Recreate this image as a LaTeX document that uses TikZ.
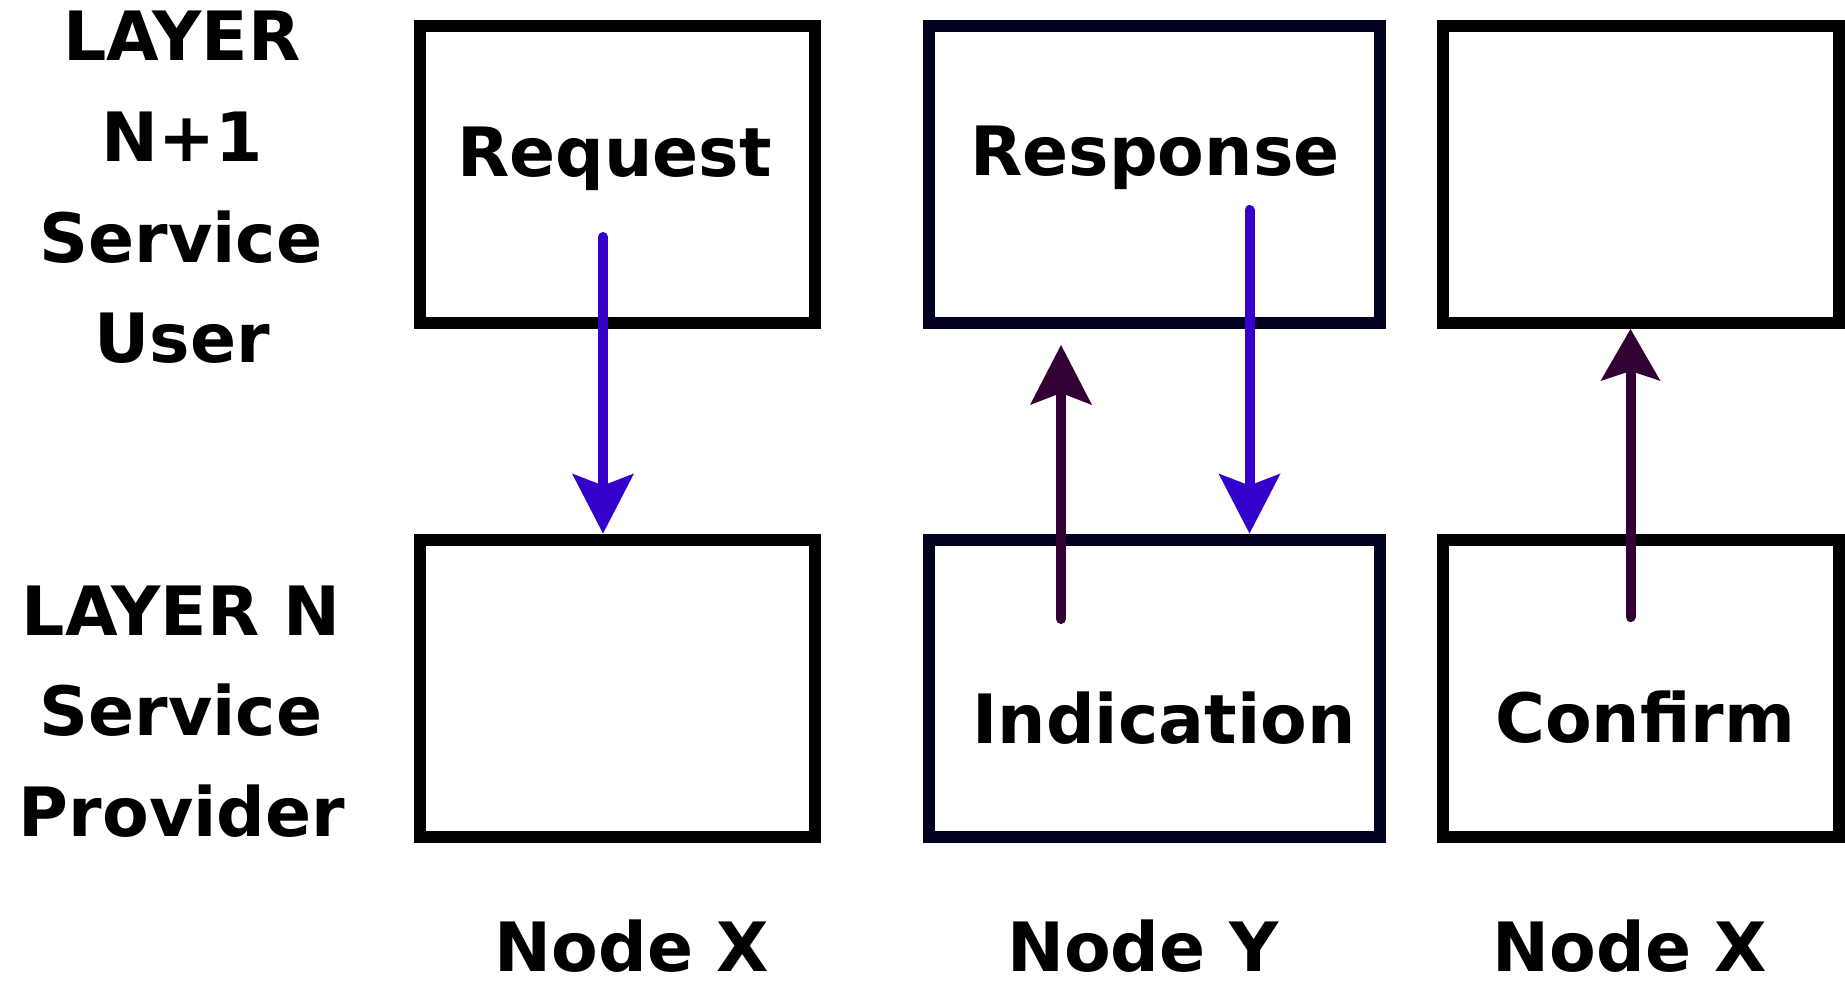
\documentclass[tikz,border=0pt]{standalone}
\usepackage{fontspec}
\setmainfont{DejaVu Sans}
\usetikzlibrary{arrows.meta,calc}
\definecolor{arrblue}{RGB}{51,0,204}
\definecolor{arrpurple}{RGB}{51,0,51}
\definecolor{boxnavy}{RGB}{0,0,32}
\begin{document}
\begin{tikzpicture}[x=0.5pt,y=-0.5pt,
  box/.style={draw=#1, line width=6pt, minimum height=148.5pt, inner sep=0pt, outer sep=3pt},
  lbl/.style={font=\bfseries\fontsize{34}{40}\selectfont, anchor=base, inner sep=0pt},
  tipA/.style={-{Stealth[length=30pt,width=31pt,inset=6pt,line width=0pt]}},
  tipB/.style={-{Stealth[length=26pt,width=30pt,inset=5pt,line width=0pt]}},
  bluearr/.style={draw=arrblue, line width=5pt, line cap=round, tipA},
  purparr/.style={draw=arrpurple, line width=5pt, line cap=round}]
\useasboundingbox (0,0) rectangle (1845,988);
% boxes
\node[box=black, minimum width=197.5pt] (t1) at (617.5,174.5) {};
\node[box=boxnavy, minimum width=225.5pt] (t2) at (1154.5,174.5) {};
\node[box=black, minimum width=198pt] (t3) at (1641,174.5) {};
\node[box=black, minimum width=197.5pt] (b1) at (617.5,688) {};
\node[box=boxnavy, minimum width=225.5pt] (b2) at (1154.5,688) {};
\node[box=black, minimum width=198pt] (b3) at (1641,688) {};
% box texts
\node[lbl] (treq) at (614.5,177) {Request};
\node[lbl] (tres) at (1155,176) {Response};
\node[lbl] (tind) at (1164,743) {Indication};
\node[lbl] (tcon) at (1645,742) {Confirm};
% node names
\node[lbl] (nx1) at (632,971) {Node X};
\node[lbl] (ny) at (1143,971) {Node Y};
\node[lbl] (nx2) at (1630,971) {Node X};
% left labels
\node[lbl] (l1) at (182,61) {LAYER};
\node[lbl] (l2) at (182,162) {N+1};
\node[lbl] (l3) at (181,263) {Service};
\node[lbl] (l4) at (182,363) {User};
\node[lbl] (l5) at (181,635) {LAYER N};
\node[lbl] (l6) at (181,735) {Service};
\node[lbl] (l7) at (182,836) {Provider};
% arrows
\coordinate (reqs) at (603,237);
\coordinate (ress) at (1249.5,210);
\coordinate (inds) at (1061,619);
\coordinate (indt) at (1061,345);
\coordinate (cons) at (1630.5,617);
\draw[bluearr] (reqs) -- (reqs |- b1.north);
\draw[bluearr] (ress) -- (ress |- b2.north);
\draw[purparr, tipA] (inds) -- (indt);
\draw[purparr, tipB] (cons) -- (cons |- t3.south);
\end{tikzpicture}
\end{document}
